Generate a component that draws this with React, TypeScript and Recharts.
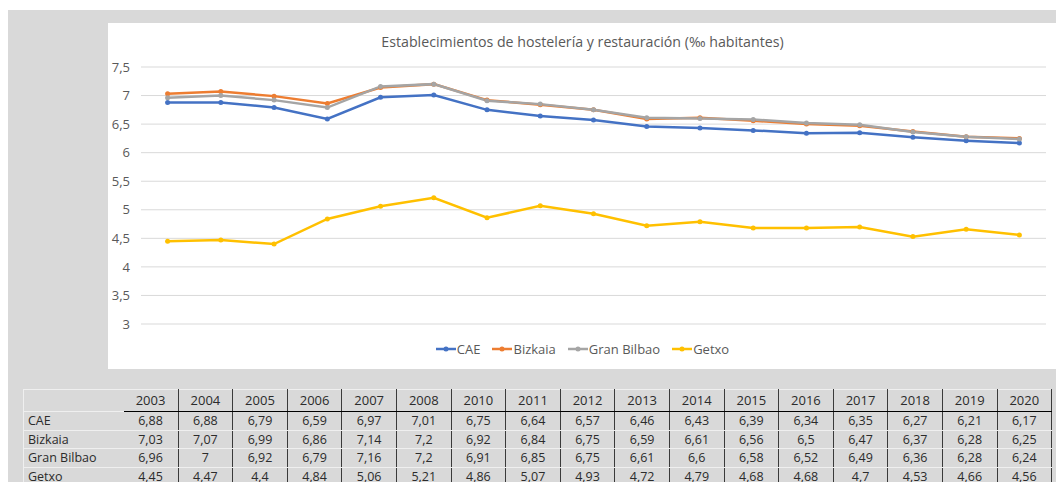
import React from "react";
import { LineChart, Line, XAxis, YAxis, CartesianGrid } from "recharts";

const years = ["2003", "2004", "2005", "2006", "2007", "2008", "2010", "2011", "2012", "2013", "2014", "2015", "2016", "2017", "2018", "2019", "2020"];

const cae = [6.88, 6.88, 6.79, 6.59, 6.97, 7.01, 6.75, 6.64, 6.57, 6.46, 6.43, 6.39, 6.34, 6.35, 6.27, 6.21, 6.17];
const bizkaia = [7.03, 7.07, 6.99, 6.86, 7.14, 7.2, 6.92, 6.84, 6.75, 6.59, 6.61, 6.56, 6.5, 6.47, 6.37, 6.28, 6.25];
const granBilbao = [6.96, 7, 6.92, 6.79, 7.16, 7.2, 6.91, 6.85, 6.75, 6.61, 6.6, 6.58, 6.52, 6.49, 6.36, 6.28, 6.24];
const getxo = [4.45, 4.47, 4.4, 4.84, 5.06, 5.21, 4.86, 5.07, 4.93, 4.72, 4.79, 4.68, 4.68, 4.7, 4.53, 4.66, 4.56];

const yTicks = [3, 3.5, 4, 4.5, 5, 5.5, 6, 6.5, 7, 7.5];

const series = [
  { key: "CAE", values: cae, color: "#4472C4" },
  { key: "Bizkaia", values: bizkaia, color: "#ED7D31" },
  { key: "Gran Bilbao", values: granBilbao, color: "#A5A5A5" },
  { key: "Getxo", values: getxo, color: "#FFC000" },
];

const chartData = years.map((year, i) => {
  const row: Record<string, string | number> = { year };
  series.forEach((s) => {
    row[s.key] = s.values[i];
  });
  return row;
});

const fmt = (v: number) => String(v).replace(".", ",");

const font = "'Open Sans', 'Noto Sans', sans-serif";

function LegendContent() {
  return (
    <div style={{ display: "flex", justifyContent: "center", gap: 12, fontFamily: font, fontSize: 13, color: "#595959" }}>
      {series.map((s) => (
        <div key={s.key} style={{ display: "flex", alignItems: "center" }}>
          <svg width={20} height={10} style={{ marginRight: 1 }}>
            <line x1={0} y1={5} x2={20} y2={5} stroke={s.color} strokeWidth={2.5} />
            <circle cx={10} cy={5} r={2.5} fill={s.color} />
          </svg>
          <span>{s.key}</span>
        </div>
      ))}
    </div>
  );
}

export default function App() {
  const colW = 54.6;
  const cell: React.CSSProperties = {
    padding: 0,
    textAlign: "center",
    borderLeft: "1px solid #3a3a3a",
    borderBottom: "1px solid #efefef",
    lineHeight: "17.5px",
    height: 17.5,
  };
  return (
    <div style={{ position: "relative", width: 1064, height: 490, margin: -8, background: "#fff", overflow: "hidden" }}>
      <div style={{ position: "absolute", left: 7, top: 10, width: 1057, height: 480, background: "#d9d9d9" }} />
      <div style={{ position: "absolute", left: 108, top: 23, width: 949, height: 346, background: "#fff" }}>
        <div
          style={{
            position: "absolute",
            left: 0,
            top: 9,
            width: 949,
            textAlign: "center",
            fontFamily: font,
            fontSize: 14.2,
            color: "#595959",
          }}
        >
          Establecimientos de hostelería y restauración (‰ habitantes)
        </div>
        <LineChart width={949} height={346} data={chartData} margin={{ top: 44, right: 11, bottom: 45, left: 0 }}>
          <CartesianGrid vertical={false} stroke="#d9d9d9" />
          <XAxis dataKey="year" hide padding={{ left: 26.6, right: 26.6 }} />
          <YAxis
            width={33}
            domain={[3, 7.5]}
            ticks={yTicks}
            axisLine={false}
            tickLine={false}
            tickMargin={5}
            tickFormatter={fmt}
            tick={{ fill: "#595959", fontSize: 13, fontFamily: font }}
          />
          {series.map((s) => (
            <Line
              key={s.key}
              dataKey={s.key}
              stroke={s.color}
              strokeWidth={2.5}
              dot={{ r: 2.5, fill: s.color, stroke: s.color, strokeWidth: 0 }}
              isAnimationActive={false}
            />
          ))}
        </LineChart>
        <div style={{ position: "absolute", left: 0, top: 317, width: 949 }}>
          <LegendContent />
        </div>
      </div>
      <table
        style={{
          position: "absolute",
          left: 23,
          top: 389,
          borderCollapse: "collapse",
          tableLayout: "fixed",
          width: 100 + colW * 17,
          fontFamily: font,
          fontSize: 12.5,
          color: "#2b2b2b",
          border: "1px solid #efefef",
        }}
      >
        <colgroup>
          <col style={{ width: 100 }} />
          {years.map((y) => (
            <col key={y} style={{ width: colW }} />
          ))}
        </colgroup>
        <thead>
          <tr>
            <th style={{ padding: 0, height: 21, borderBottom: "1px solid #efefef" }} />
            {years.map((y, i) => (
              <th
                key={y}
                style={{
                  ...cell,
                  height: 21,
                  lineHeight: "21px",
                  fontWeight: 400,
                  fontSize: 13,
                  borderLeft: i === 0 ? "none" : cell.borderLeft,
                  borderRight: i === years.length - 1 ? "1px solid #3a3a3a" : undefined,
                  borderBottom: "1px solid #000",
                }}
              >
                {y}
              </th>
            ))}
          </tr>
        </thead>
        <tbody>
          {series.map((s) => (
            <tr key={s.key}>
              <td
                style={{
                  padding: "0 0 0 4px",
                  textAlign: "left",
                  borderBottom: "1px solid #efefef",
                  lineHeight: "17.5px",
                  height: 17.5,
                }}
              >
                {s.key}
              </td>
              {s.values.map((v, i) => (
                <td
                  key={i}
                  style={{
                    ...cell,
                    borderLeft: i === 0 ? "none" : cell.borderLeft,
                    borderRight: i === s.values.length - 1 ? "1px solid #3a3a3a" : undefined,
                  }}
                >
                  {fmt(v)}
                </td>
              ))}
            </tr>
          ))}
        </tbody>
      </table>
    </div>
  );
}
